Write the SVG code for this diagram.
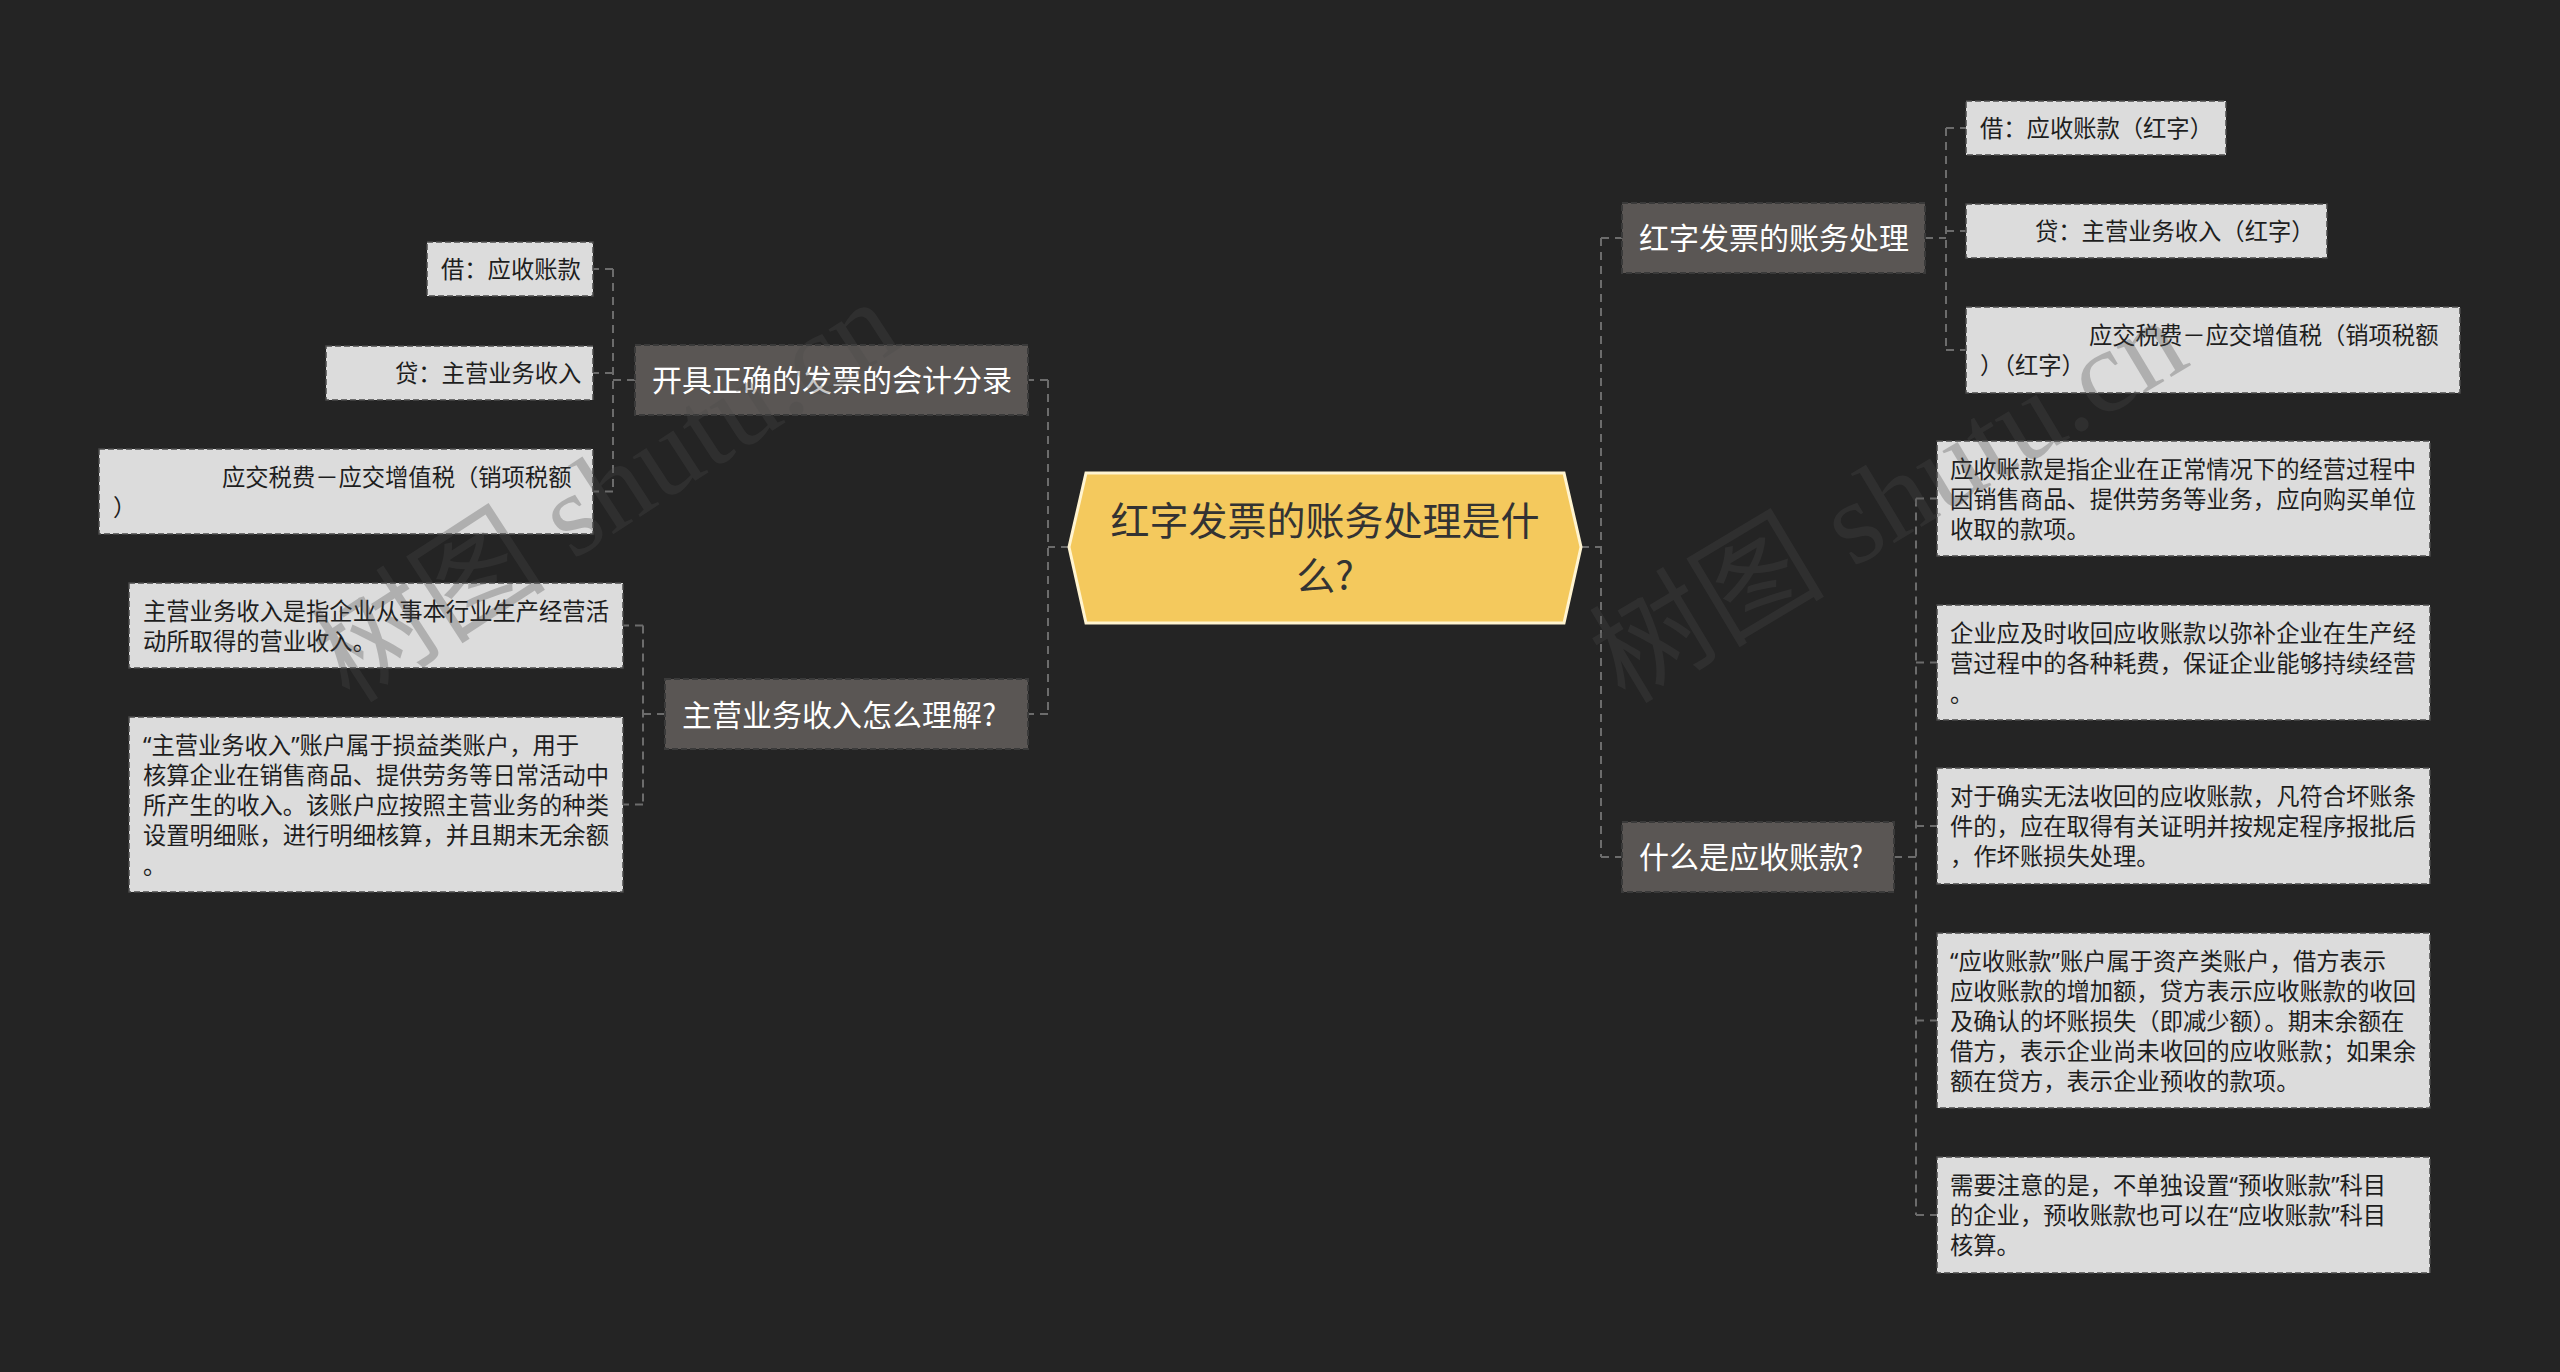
<svg xmlns="http://www.w3.org/2000/svg" width="2560" height="1372" viewBox="0 0 2560 1372">
<style>
.bg{fill:#242424}
.conn{fill:none;stroke:#6c6c6c;stroke-width:2;stroke-dasharray:8 6}
.branch{fill:#5a5654;stroke:#3a3a3a;stroke-width:2;stroke-dasharray:6 3}
.leaf{fill:#dcdcdc;stroke:#4a4a4a;stroke-width:1.5;stroke-dasharray:6 3}
.center{fill:#f4c95d;stroke:#fff4d0;stroke-width:3}
.t{font-family:"Noto Sans CJK SC","Noto Sans",sans-serif}
.q{font-family:"Noto Sans","Liberation Sans",sans-serif}
.bt{font-size:30px;fill:#ffffff}
.lt{font-size:23.3px;fill:#1e1e1e}
.ct{font-size:39px;fill:#333333}
.wm{font-family:"Liberation Serif","Noto Sans CJK SC",serif;font-size:118px;fill:#4a4a4a;opacity:0.3}
</style>
<rect class="bg" x="0" y="0" width="2560" height="1372"/>

<g id="connectors">
  <path class="conn" d="M1069 547 H1048 M1048 380 V714 M1048 380 H1028 M1048 714 H1028"/>
  <path class="conn" d="M635 380 H613 M613 269 V491.5 M613 269 H593 M613 373 H593 M613 491.5 H593"/>
  <path class="conn" d="M665 714 H643 M643 625.5 V804.5 M643 625.5 H623 M643 804.5 H623"/>
  <path class="conn" d="M1581 547 H1601 M1601 238 V857 M1601 238 H1622 M1601 857 H1622"/>
  <path class="conn" d="M1925 238 H1946 M1946 128 V350 M1946 128 H1966 M1946 231 H1966 M1946 350 H1966"/>
  <path class="conn" d="M1894 857 H1916 M1916 498.5 V1215 M1916 498.5 H1937 M1916 662.5 H1937 M1916 826 H1937 M1916 1020.5 H1937 M1916 1215 H1937"/>
</g>

<g id="node-center">
  <polygon class="center" points="1069,547 1086,473 1564,473 1581,547 1564,623 1086,623"/>
  <text class="t ct" x="1325" y="535" text-anchor="middle">红字发票的账务处理是什</text>
  <text class="t ct" x="1325" y="590" text-anchor="middle">么?</text>
</g>

<g id="node-kaiju">
  <rect class="branch" x="635" y="345" width="393" height="70"/>
  <text class="t bt" x="652" y="391">开具正确的发票的会计分录</text>
</g>
<g id="node-zhuying">
  <rect class="branch" x="665" y="679" width="363" height="70"/>
  <text class="t bt" x="682" y="726">主营业务收入怎么理解?</text>
</g>
<g id="node-hongzi">
  <rect class="branch" x="1622" y="203" width="303" height="70"/>
  <text class="t bt" x="1639" y="249">红字发票的账务处理</text>
</g>
<g id="node-shenme">
  <rect class="branch" x="1622" y="822" width="272" height="70"/>
  <text class="t bt" x="1639" y="868">什么是应收账款?</text>
</g>

<g id="leaf-l1">
  <rect class="leaf" x="427" y="242" width="166" height="54"/>
  <text class="t lt" x="441" y="278">借：应收账款</text>
</g>
<g id="leaf-l2">
  <rect class="leaf" x="326" y="346" width="267" height="54"/>
  <text class="t lt" x="395" y="382">贷：主营业务收入</text>
</g>
<g id="leaf-l3">
  <rect class="leaf" x="99" y="449" width="494" height="85"/>
  <text class="t lt" x="222" y="486">应交税费－应交增值税（销项税额</text>
  <text class="t lt" x="113" y="516">）</text>
</g>
<g id="leaf-l4">
  <rect class="leaf" x="129" y="583" width="494" height="85"/>
  <text class="t lt" x="143" y="620">主营业务收入是指企业从事本行业生产经营活</text>
  <text class="t lt" x="143" y="650">动所取得的营业收入。</text>
</g>
<g id="leaf-l5">
  <rect class="leaf" x="129" y="717" width="494" height="175"/>
  <text class="t lt" x="143" y="754"><tspan class="q">“</tspan>主营业务收入<tspan class="q">”</tspan>账户属于损益类账户，用于</text>
  <text class="t lt" x="143" y="784">核算企业在销售商品、提供劳务等日常活动中</text>
  <text class="t lt" x="143" y="814">所产生的收入。该账户应按照主营业务的种类</text>
  <text class="t lt" x="143" y="844">设置明细账，进行明细核算，并且期末无余额</text>
  <text class="t lt" x="143" y="874">。</text>
</g>

<g id="leaf-r1">
  <rect class="leaf" x="1966" y="101" width="260" height="54"/>
  <text class="t lt" x="1980" y="137">借：应收账款（红字）</text>
</g>
<g id="leaf-r2">
  <rect class="leaf" x="1966" y="204" width="361" height="54"/>
  <text class="t lt" x="2035" y="240">贷：主营业务收入（红字）</text>
</g>
<g id="leaf-r3">
  <rect class="leaf" x="1966" y="307" width="494" height="86"/>
  <text class="t lt" x="2089" y="344">应交税费－应交增值税（销项税额</text>
  <text class="t lt" x="1980" y="374">）（红字）</text>
</g>
<g id="leaf-r4">
  <rect class="leaf" x="1937" y="441" width="493" height="115"/>
  <text class="t lt" x="1950" y="478">应收账款是指企业在正常情况下的经营过程中</text>
  <text class="t lt" x="1950" y="508">因销售商品、提供劳务等业务，应向购买单位</text>
  <text class="t lt" x="1950" y="538">收取的款项。</text>
</g>
<g id="leaf-r5">
  <rect class="leaf" x="1937" y="605" width="493" height="115"/>
  <text class="t lt" x="1950" y="642">企业应及时收回应收账款以弥补企业在生产经</text>
  <text class="t lt" x="1950" y="672">营过程中的各种耗费，保证企业能够持续经营</text>
  <text class="t lt" x="1950" y="702">。</text>
</g>
<g id="leaf-r6">
  <rect class="leaf" x="1937" y="768" width="493" height="116"/>
  <text class="t lt" x="1950" y="805">对于确实无法收回的应收账款，凡符合坏账条</text>
  <text class="t lt" x="1950" y="835">件的，应在取得有关证明并按规定程序报批后</text>
  <text class="t lt" x="1950" y="865">，作坏账损失处理。</text>
</g>
<g id="leaf-r7">
  <rect class="leaf" x="1937" y="933" width="493" height="175"/>
  <text class="t lt" x="1950" y="970"><tspan class="q">“</tspan>应收账款<tspan class="q">”</tspan>账户属于资产类账户，借方表示</text>
  <text class="t lt" x="1950" y="1000">应收账款的增加额，贷方表示应收账款的收回</text>
  <text class="t lt" x="1950" y="1030">及确认的坏账损失（即减少额）。期末余额在</text>
  <text class="t lt" x="1950" y="1060">借方，表示企业尚未收回的应收账款；如果余</text>
  <text class="t lt" x="1950" y="1090">额在贷方，表示企业预收的款项。</text>
</g>
<g id="leaf-r8">
  <rect class="leaf" x="1937" y="1157" width="493" height="116"/>
  <text class="t lt" x="1950" y="1194">需要注意的是，不单独设置<tspan class="q">“</tspan>预收账款<tspan class="q">”</tspan>科目</text>
  <text class="t lt" x="1950" y="1224">的企业，预收账款也可以在<tspan class="q">“</tspan>应收账款<tspan class="q">”</tspan>科目</text>
  <text class="t lt" x="1950" y="1254">核算。</text>
</g>

<g id="watermark">
  <text class="wm" transform="translate(350 705) rotate(-33)">树图 shutu.cn</text>
  <text class="wm" transform="translate(1625 705) rotate(-31)">树图 shutu.cn</text>
</g>
</svg>
